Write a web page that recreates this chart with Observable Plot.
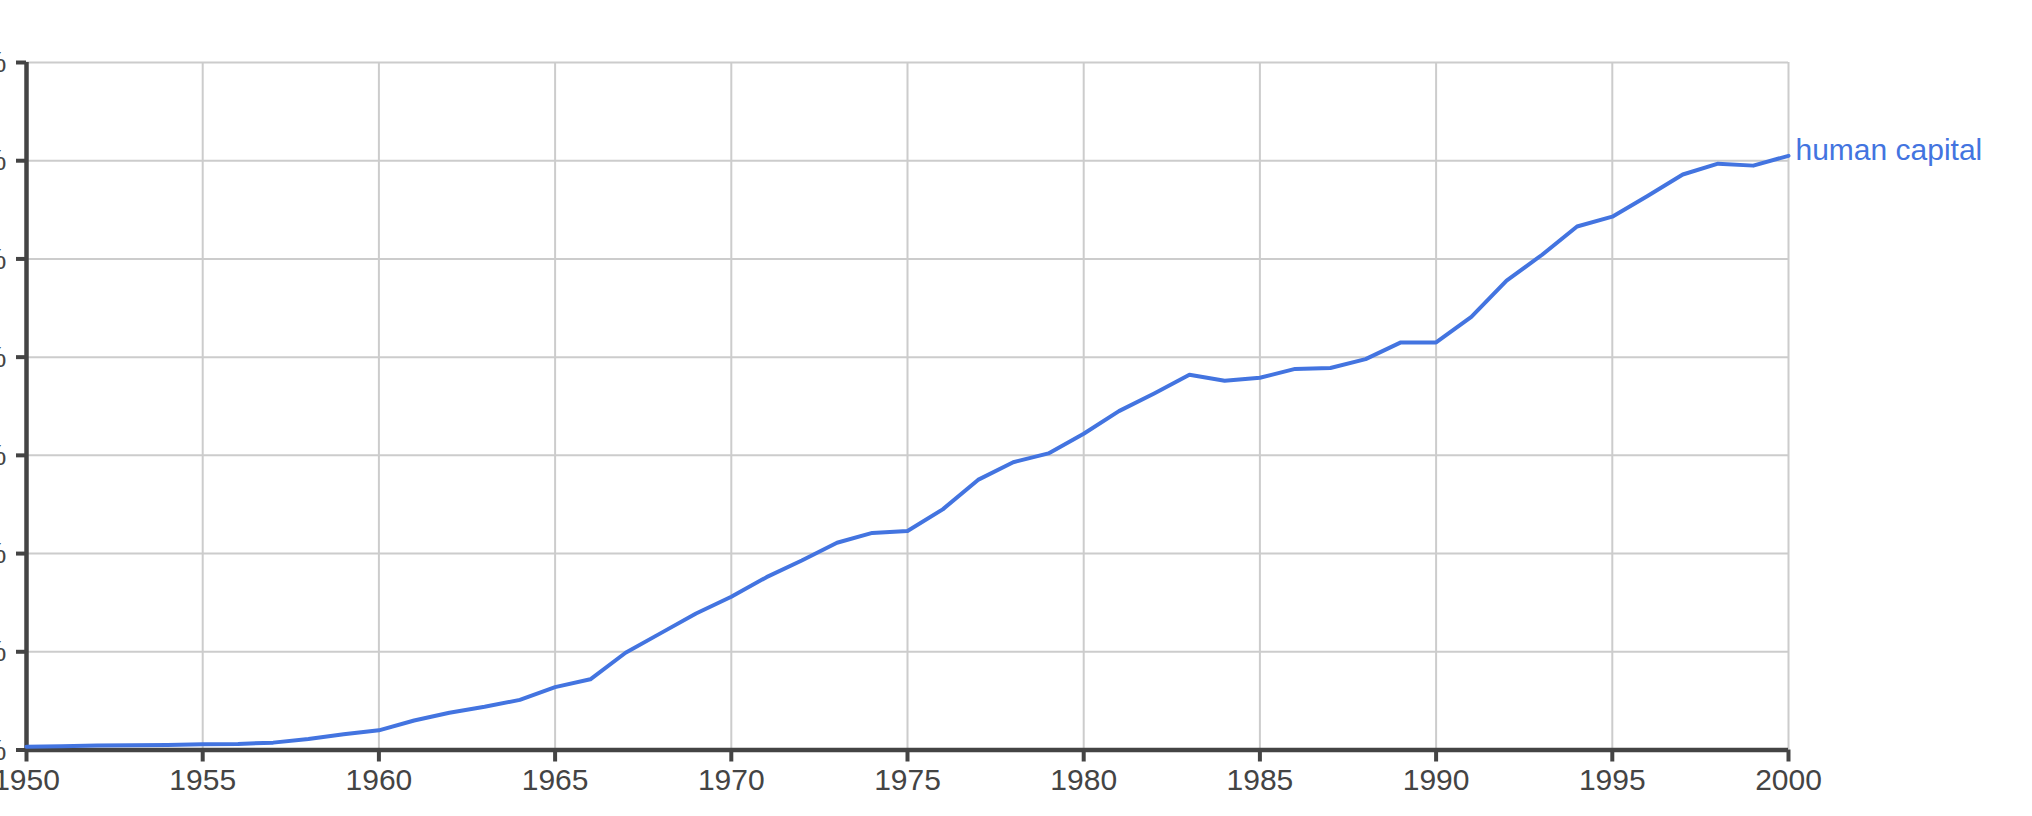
<!DOCTYPE html>
<html>
<head>
<meta charset="utf-8">
<script src="https://cdn.jsdelivr.net/npm/d3@7"></script>
<script src="https://cdn.jsdelivr.net/npm/@observablehq/plot@0.6"></script>
<style>
  html, body { margin: 0; padding: 0; background: #fff; }
  #chart svg { display: block; }
</style>
</head>
<body>
<div id="chart"></div>
<script>
const seriesName = "human capital";

const years = [
  1950, 1951, 1952, 1953, 1954, 1955, 1956, 1957, 1958, 1959,
  1960, 1961, 1962, 1963, 1964, 1965, 1966, 1967, 1968, 1969,
  1970, 1971, 1972, 1973, 1974, 1975, 1976, 1977, 1978, 1979,
  1980, 1981, 1982, 1983, 1984, 1985, 1986, 1987, 1988, 1989,
  1990, 1991, 1992, 1993, 1994, 1995, 1996, 1997, 1998, 1999,
  2000
];

// frequency, in units of 1e-7 %
const values = [
  0.034, 0.038, 0.045, 0.048, 0.051, 0.058, 0.062, 0.075, 0.113, 0.16,
  0.20, 0.30, 0.38, 0.44, 0.51, 0.64, 0.72, 0.99, 1.19, 1.39,
  1.56, 1.76, 1.93, 2.11, 2.21, 2.23, 2.45, 2.75, 2.93, 3.02,
  3.22, 3.45, 3.63, 3.82, 3.76, 3.79, 3.88, 3.89, 3.98, 4.15,
  4.15, 4.41, 4.78, 5.04, 5.33, 5.43, 5.64, 5.86, 5.97, 5.95,
  6.05
];

const xTicks = [1950, 1955, 1960, 1965, 1970, 1975, 1980, 1985, 1990, 1995, 2000];
const xTickLabels = ["1950", "1955", "1960", "1965", "1970", "1975", "1980", "1985", "1990", "1995", "2000"];

const yTicks = [0, 1, 2, 3, 4, 5, 6, 7];
const yTickLabels = ["0.0000000%", "0.0000001%", "0.0000002%", "0.0000003%", "0.0000004%", "0.0000005%", "0.0000006%", "0.0000007%"];

const data = years.map((year, i) => ({year, value: values[i]}));
const lastPoint = [data[data.length - 1]];

const blue = "#4374e0";
const dark = "#444444";
const gridColor = "#cccccc";

const chart = Plot.plot({
  width: 2032,
  height: 816,
  marginLeft: 26,
  marginRight: 244,
  marginTop: 62,
  marginBottom: 66.5,
  style: "font-family: Arial, 'Liberation Sans', sans-serif; font-size: 30px; color: #444; background: #fff; overflow: hidden;",
  x: {domain: [1950, 2000], label: null},
  y: {domain: [0, 7], label: null},
  marks: [
    Plot.gridX(xTicks.slice(1), {stroke: gridColor, strokeOpacity: 1, strokeWidth: 2}),
    Plot.gridY(yTicks.slice(1), {stroke: gridColor, strokeOpacity: 1, strokeWidth: 2}),
    Plot.axisY(yTicks, {
      label: null,
      tickSize: 10, tickPadding: 10, strokeWidth: 4, stroke: dark, fill: dark, fontSize: 30,
      tickFormat: d => yTickLabels[yTicks.indexOf(d)]
    }),
    Plot.axisX(xTicks, {
      label: null,
      tickSize: 12, tickPadding: 6.5, strokeWidth: 4, stroke: dark, fill: dark, fontSize: 30,
      tickFormat: d => xTickLabels[xTicks.indexOf(d)]
    }),
    Plot.ruleX([1950], {y1: 0, y2: 7, stroke: dark, strokeWidth: 4.5}),
    Plot.ruleY([0], {stroke: dark, strokeWidth: 4.5}),
    Plot.line(data, {x: "year", y: "value", stroke: blue, strokeWidth: 4}),
    Plot.text(lastPoint, {
      x: "year", y: "value", text: () => seriesName,
      textAnchor: "start", dx: 7, dy: -5, fill: blue, fontSize: 30
    })
  ]
});

document.getElementById("chart").appendChild(chart);
</script>
</body>
</html>
